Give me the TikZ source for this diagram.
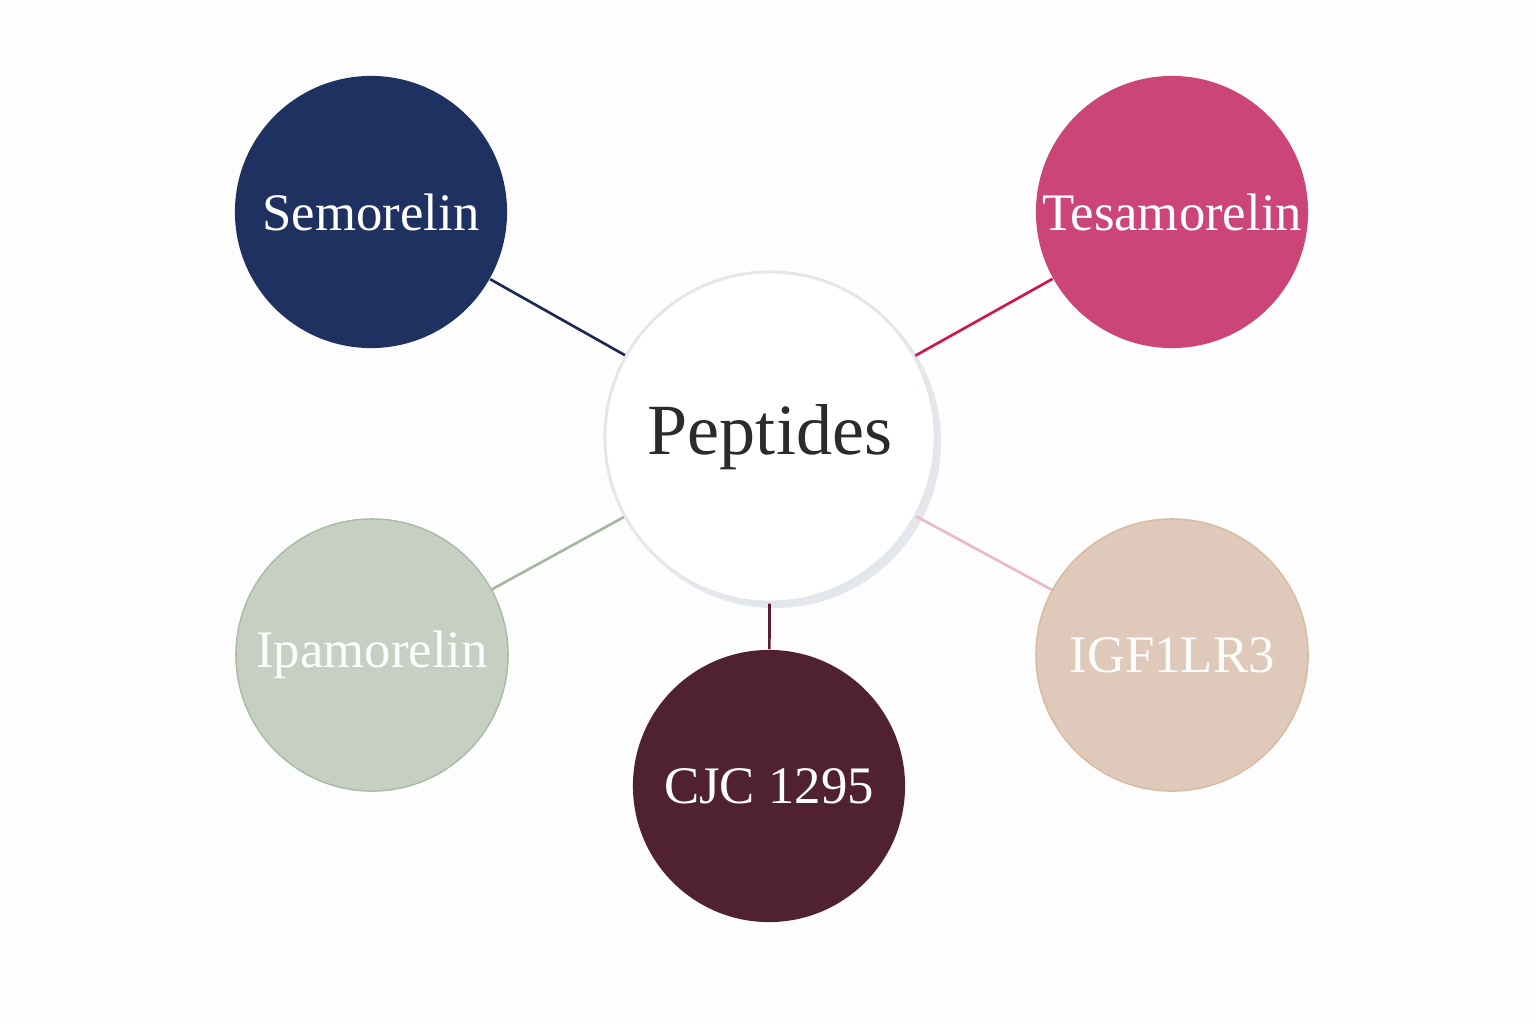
\documentclass[tikz,border=0pt]{standalone}
\usepackage{fontspec}
\setmainfont{Liberation Serif}
\usepackage{tikz}
\definecolor{bgwhite}{HTML}{FDFDFD}
\definecolor{navy}{HTML}{1F3160}
\definecolor{navyline}{HTML}{1B2850}
\definecolor{rose}{HTML}{CB4577}
\definecolor{roseline}{HTML}{D0144F}
\definecolor{sage}{HTML}{C6CFC2}
\definecolor{sageedge}{HTML}{A8BBA6}
\definecolor{sageline}{HTML}{A5B79F}
\definecolor{sand}{HTML}{DEC9BA}
\definecolor{sandedge}{HTML}{D8BA9F}
\definecolor{blushline}{HTML}{EBB8C8}
\definecolor{wine}{HTML}{502133}
\definecolor{wineline}{HTML}{5A1F2F}
\definecolor{hubedge}{HTML}{E3E7EC}
\definecolor{hubshadow}{HTML}{E4E8ED}
\definecolor{ink}{HTML}{2B2B2B}

\begin{document}
\begin{tikzpicture}[x=0.01cm, y=-0.01cm]
\tikzstyle{every node} = [circle, inner sep=0, font=\fontsize{15}{17}\selectfont]
\tikzstyle{leaf} = [minimum size=2.72cm, text=white]
\tikzstyle{hub} = [minimum size=3.3cm, fill=white, draw=hubedge, line width=0.85pt, text=ink, font=\fontsize{20.5}{22}\selectfont]
\tikzstyle{edge} = [draw, line width=0.75pt]
\fill[bgwhite] (0,0) rectangle (1536,1024);
\fill[hubshadow] (775,442) circle (1.66cm);
\node[hub] (peptides) at (770,437) {Peptides};
\node[leaf, fill=navy] (semorelin) at (371,212) {Semorelin};
\node[leaf, fill=rose] (tesamorelin) at (1172,212) {Tesamorelin};
\node[leaf, fill=sage, draw=sageedge, line width=0.4pt, text=white!95!sage] (ipamorelin) at (372,655) {Ipamorelin};
\node[leaf, fill=sand, draw=sandedge, line width=0.4pt, text=white!95!sand] (igf) at (1172,655) {IGF1LR3};
\node[leaf, fill=wine] (cjc) at (769,786) {CJC 1295};
\draw[edge, navyline] (semorelin) -- (peptides);
\draw[edge, roseline] (tesamorelin) -- (peptides);
\draw[edge, sageline] (ipamorelin) -- (peptides);
\draw[edge, blushline] (igf) -- (peptides);
\draw[edge, wineline] (cjc) -- (peptides);
\end{tikzpicture}
\end{document}
